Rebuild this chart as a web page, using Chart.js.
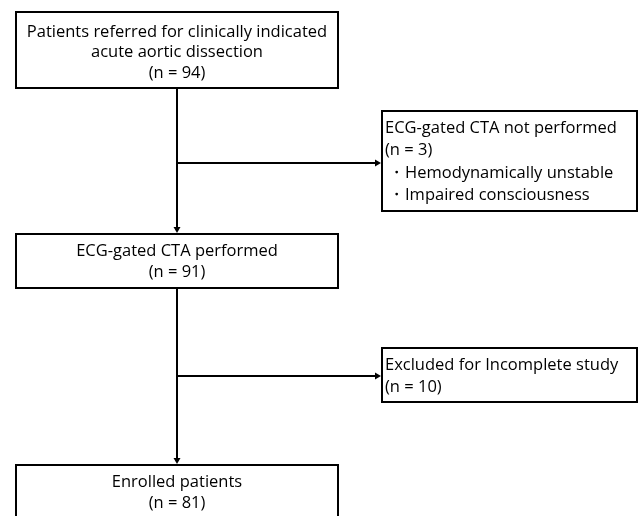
<!DOCTYPE html>
<html>
<head>
<meta charset="utf-8">
<script src="https://cdn.jsdelivr.net/npm/chart.js@4.4.1/dist/chart.umd.min.js"></script>
<style>
  html, body { margin: 0; padding: 0; background: #fff; }
  #wrap { width: 638px; height: 516px; }
</style>
</head>
<body>
<div id="wrap"><canvas id="flowChart"></canvas></div>
<script>
// flow stages and their counts
const stageLabels = [
    ['Patients referred for clinically indicated', 'acute aortic dissection'],
    ['ECG-gated CTA performed'],
    ['Enrolled patients']
];
const stageCounts = [94, 91, 81];

const excludedLabels = ['ECG-gated CTA not performed', 'Excluded for Incomplete study'];
const excludedCounts = [3, 10];
const excludedReasons = [['Hemodynamically unstable', 'Impaired consciousness'], []];

// layout in chart units (x: 0..638, y: 0..516 top-down)
const stageBoxes = [[16, 12, 338, 88], [16, 234, 338, 288], [16, 465, 338, 530]];
const stageTextY = [32, 251, 482];
const sideBoxes = [[382, 111, 637, 211], [382, 348, 637, 402]];
const sideTextY = [128, 365];
const branchY = [163, 376];
const trunkX = 177;

const FONT = '"Open Sans", "Noto Sans", sans-serif';

const flowPlugin = {
    id: 'flow',
    afterDraw(chart) {
        const ctx = chart.ctx;
        const sx = chart.scales.x, sy = chart.scales.y;
        const px = v => sx.getPixelForValue(v);
        const py = v => sy.getPixelForValue(v);

        ctx.save();
        ctx.strokeStyle = '#000';
        ctx.fillStyle = '#000';
        ctx.lineWidth = 2;

        function box(b) {
            ctx.strokeRect(px(b[0]), py(b[1]), px(b[2]) - px(b[0]), py(b[3]) - py(b[1]));
        }
        function arrowHead(x, y, dir) {
            ctx.beginPath();
            if (dir === 'down') {
                ctx.moveTo(x - 3.5, y - 6); ctx.lineTo(x + 3.5, y - 6); ctx.lineTo(x, y);
            } else {
                ctx.moveTo(x - 6, y - 3.5); ctx.lineTo(x - 6, y + 3.5); ctx.lineTo(x, y);
            }
            ctx.closePath();
            ctx.fill();
        }

        stageBoxes.forEach(box);
        sideBoxes.forEach(box);

        // vertical trunk between stage boxes
        for (let i = 0; i < stageBoxes.length - 1; i++) {
            const y0 = py(stageBoxes[i][3]), y1 = py(stageBoxes[i + 1][1]);
            ctx.beginPath();
            ctx.moveTo(px(trunkX), y0);
            ctx.lineTo(px(trunkX), y1 - 4);
            ctx.stroke();
            arrowHead(px(trunkX), y1 - 1, 'down');
        }
        // branches to exclusion boxes
        branchY.forEach((y, i) => {
            ctx.beginPath();
            ctx.moveTo(px(trunkX), py(y));
            ctx.lineTo(px(sideBoxes[i][0]) - 4, py(y));
            ctx.stroke();
            arrowHead(px(sideBoxes[i][0]) - 1, py(y), 'right');
        });

        // texts
        ctx.font = '16.5px ' + FONT;
        ctx.textBaseline = 'middle';
        ctx.textAlign = 'center';
        stageBoxes.forEach((b, i) => {
            const lines = stageLabels[i].concat(['(n = ' + stageCounts[i] + ')']);
            const cx = px((b[0] + b[2]) / 2);
            const lh = i === 0 ? 20.5 : 21.5;
            lines.forEach((t, j) => ctx.fillText(t, cx, py(stageTextY[i]) + j * lh));
        });

        ctx.textAlign = 'left';
        const sideLh = 22.5;
        sideBoxes.forEach((b, i) => {
            const top = py(sideTextY[i]);
            const x0 = px(b[0]) + 3;
            ctx.fillText(excludedLabels[i], x0, top);
            ctx.fillText('(n = ' + excludedCounts[i] + ')', x0, top + sideLh);
            excludedReasons[i].forEach((r, j) => {
                const y = top + (j + 2) * sideLh;
                ctx.fillText('\u30FB', x0 + 3, y);
                ctx.fillText(r, x0 + 20, y);
            });
        });
        ctx.restore();
    }
};

new Chart(document.getElementById('flowChart').getContext('2d'), {
    type: 'scatter',
    data: { datasets: [{ data: [], pointRadius: 0 }] },
    options: {
        responsive: true,
        maintainAspectRatio: false,
        animation: false,
        layout: { padding: 0 },
        plugins: { legend: { display: false }, tooltip: { enabled: false } },
        scales: {
            x: { type: 'linear', min: 0, max: 638, display: false },
            y: { type: 'linear', min: 0, max: 516, reverse: true, display: false }
        }
    },
    plugins: [flowPlugin]
});
</script>
</body>
</html>
